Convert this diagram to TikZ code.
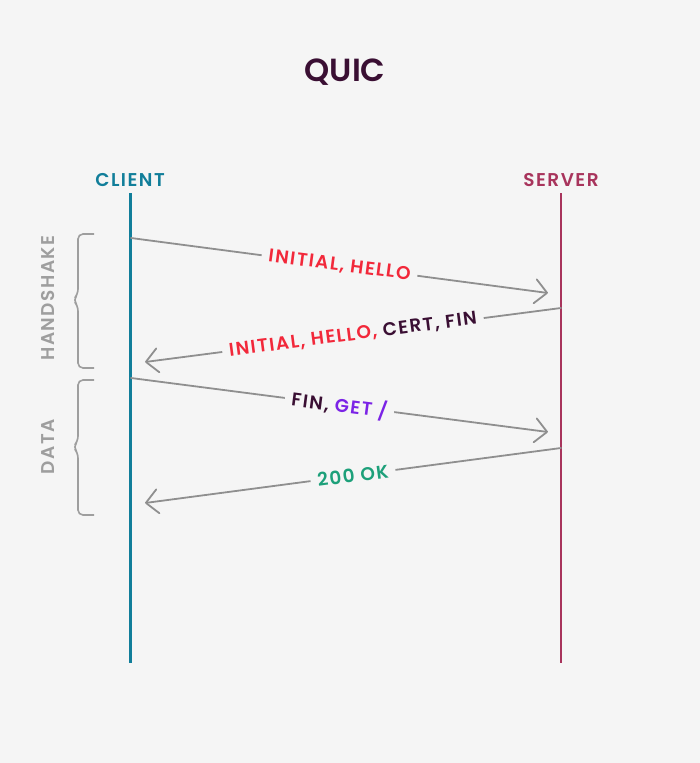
\documentclass[tikz,border=0pt]{standalone}
\usepackage{fontspec}
\IfFontExistsTF{Poppins SemiBold}{%
  \setmainfont{Poppins}[BoldFont={Poppins SemiBold}]
  \newfontfamily\labelfont{Poppins}[BoldFont={Poppins SemiBold}, LetterSpace=8]
}{%
  \setmainfont{Poppins}
  \newfontfamily\labelfont{Poppins}[LetterSpace=6]
}
\usetikzlibrary{arrows.meta}

\definecolor{bgcol}{HTML}{F5F5F5}
\definecolor{plum}{HTML}{3A0F33}
\definecolor{clientcol}{HTML}{117E9A}
\definecolor{servercol}{HTML}{A8345C}
\definecolor{hellored}{HTML}{F2283A}
\definecolor{getpurple}{HTML}{7B23E6}
\definecolor{okgreen}{HTML}{1DA07A}
\definecolor{msggray}{HTML}{8F8F8F}
\definecolor{bracegray}{HTML}{9E9E9E}

\begin{document}
\begin{tikzpicture}[
    x=1pt, y=-1pt,
    msg/.style={draw=msggray, line width=1.8pt, line cap=round,
        -{Straight Barb[length=12pt, width=24pt, line cap=round, line join=round]}},
    msglabel/.style={sloped, fill=bgcol, inner sep=7pt,
        font=\labelfont\bfseries\fontsize{18.5}{20}\selectfont},
    partylabel/.style={font=\labelfont\bfseries\fontsize{18.5}{20}\selectfont},
    phase/.style={draw=bracegray, line width=1.6pt, rounded corners=5pt},
    phaselabel/.style={rotate=90, text=bracegray,
        font=\labelfont\bfseries\fontsize{18.5}{20}\selectfont}
]
    % Background and page size
    \fill[bgcol] (0,0) rectangle (700,763);
    \useasboundingbox (0,0) rectangle (700,763);

    % Title
    \node[text=plum, font=\bfseries\fontsize{32}{34}\selectfont] (title) at (345,72) {QUIC};

    % Parties and their lifelines
    \node[partylabel, text=clientcol] (client) at (130,180) {CLIENT};
    \node[partylabel, text=servercol] (server) at (561,180) {SERVER};
    \coordinate (clienttop) at (130,193);
    \coordinate (clientbot) at (130,663);
    \coordinate (servertop) at (561,193);
    \coordinate (serverbot) at (561,663);
    \draw[clientcol, line width=3pt] (clienttop) -- (clientbot);
    \draw[servercol, line width=2.8pt] (servertop) -- (serverbot);

    % Message end points
    \coordinate (c1) at (131,238);
    \coordinate (s1) at (548,293);
    \coordinate (s2) at (561,308);
    \coordinate (c2) at (145,362);
    \coordinate (c3) at (131,378);
    \coordinate (s3) at (548,432);
    \coordinate (s4) at (561,448);
    \coordinate (c4) at (145,503);

    % Messages
    \draw[msg] (c1) -- node[msglabel, text=hellored] (m1) {INITIAL, HELLO} (s1);
    \draw[msg] (s2) -- node[msglabel, text=plum] (m2)
        {\textcolor{hellored}{INITIAL, HELLO,} CERT, FIN} (c2);
    \draw[msg] (c3) -- node[msglabel, text=plum] (m3)
        {FIN, \textcolor{getpurple}{GET /}} (s3);
    \draw[msg] (s4) -- node[msglabel, text=okgreen] (m4) {200 OK} (c4);

    % Phase braces
    \draw[phase] (94,234) -- (78,234) -- (78,294) -- (73,300) -- (78,306)
        -- (78,368) -- (94,368);
    \draw[phase] (94,380) -- (78,380) -- (78,441) -- (73,447) -- (78,453)
        -- (78,515) -- (94,515);
    \node[phaselabel] (handshake) at (48,298) {HANDSHAKE};
    \node[phaselabel] (data) at (48,447) {DATA};
\end{tikzpicture}
\end{document}
